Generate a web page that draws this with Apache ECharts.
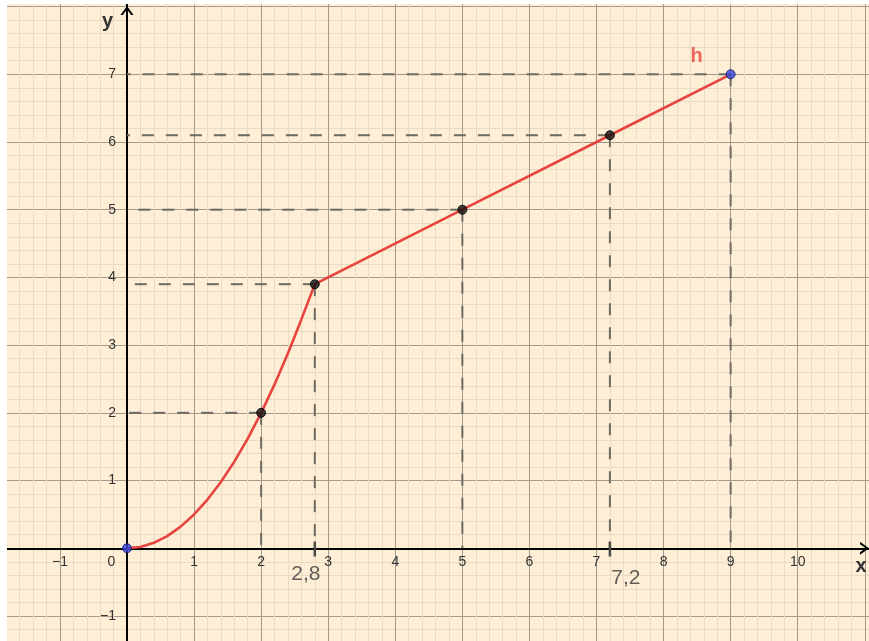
<!DOCTYPE html>
<html><head><meta charset="utf-8">
<script src="https://cdn.jsdelivr.net/npm/echarts@6/dist/echarts.min.js"></script>
<style>html,body{margin:0;padding:0;background:#fff}#c{width:869px;height:641px}</style>
</head><body><div id="c"></div>
<script>
// ---- data ----
const funcName = 'h';
// function h: curved part then straight part
const hX = [0, 0.2, 0.4, 0.6, 0.8, 1.0, 1.2, 1.4, 1.6, 1.8, 2.0, 2.2, 2.4, 2.6, 2.8, 5, 7.2, 9];
const hY = [0, 0.02, 0.08, 0.18, 0.32, 0.5, 0.72, 0.98, 1.28, 1.62, 2.0, 2.42, 2.88, 3.38, 3.9, 5, 6.1, 7];
// marked (black) points
const markX = [2, 2.8, 5, 7.2];
const markY = [2, 3.9, 5, 6.1];
// end (blue) points
const endX = [0, 9];
const endY = [0, 7];
// dashed guide lines to the axes
const guideX = [2, 2.8, 5, 7.2, 9];
const guideY = [2, 3.9, 5, 6.1, 7];
// extra value labels on the x axis
const extraX = [2.8, 7.2];
const extraText = ['2,8', '7,2'];
// tick labels
const xTicks = [-1, 0, 1, 2, 3, 4, 5, 6, 7, 8, 9, 10];
const xTickLabels = ['−1', '0', '1', '2', '3', '4', '5', '6', '7', '8', '9', '10'];
const yTicks = [-1, 1, 2, 3, 4, 5, 6, 7];
const yTickLabels = ['−1', '1', '2', '3', '4', '5', '6', '7'];
const xRange = [-2, 11.063];
const yRange = [-2, 8.038];
const gridStep = 0.2;   // minor grid spacing; major every 1

// ---- layout & styles ----
const G = {left: -7.14, top: 4, width: 876.14, height: 679.7};
const pxX = G.width / (xRange[1] - xRange[0]);
const pxY = G.height / (yRange[1] - yRange[0]);
const x0px = G.left + (0 - xRange[0]) * pxX;
const y0px = G.top + yRange[1] * pxY;
const xAxisOffset = -(G.top + G.height - y0px);
const yAxisOffset = -(x0px - G.left);

const FONT = '"Liberation Sans", Arial, sans-serif';
const CREAM = '#fdeed5';
const MAJOR = '#a49a8c';
const MINOR = '#e9dac3';
const RED = '#e8443f';
const GUIDE = '#6d6b62';
const chevron = 'path://M0,9 L6.5,0 L13,9 L10.6,9 L6.5,3.3 L2.4,9 Z';
const gridColors = [MAJOR, MINOR, MINOR, MINOR, MINOR];

const chart = echarts.init(document.getElementById('c'), null, {renderer: 'canvas'});

const series = [];
guideX.forEach((gx, i) => {
  const gy = guideY[i];
  [[[gx, gy], [0, gy]], [[gx, gy], [gx, 0]]].forEach(seg => {
    series.push({
      type: 'line', data: seg, symbol: 'none', silent: true, z: 2,
      lineStyle: {color: GUIDE, width: 2, type: [12, 12]}, animation: false
    });
  });
});
extraX.forEach(ex => {
  series.push({
    type: 'line', data: [[ex, 0.1], [ex, -0.12]], symbol: 'none', silent: true, z: 2,
    lineStyle: {color: '#4a4a46', width: 2.5}, animation: false
  });
});
series.push({
  type: 'line', name: funcName, data: hX.map((x, i) => [x, hY[i]]),
  symbol: 'none', smooth: false, z: 3, animation: false,
  lineStyle: {color: RED, width: 2.6}
});
series.push({
  type: 'scatter', data: markX.map((x, i) => [x, markY[i]]), z: 4, animation: false,
  symbolSize: 9, itemStyle: {color: '#111', borderColor: '#000', borderWidth: 1}
});
series.push({
  type: 'scatter', z: 4, animation: false, symbolSize: 9,
  itemStyle: {color: '#3346dc', borderColor: '#151560', borderWidth: 1},
  data: endX.map((x, i) => {
    const item = {value: [x, endY[i]]};
    if (i === endX.length - 1) {
      item.label = {show: true, position: 'inside', formatter: funcName, offset: [-34, -18],
        color: RED, fontSize: 20, fontWeight: 'bold', fontFamily: FONT};
    }
    return item;
  })
});
series.push({
  type: 'scatter', z: 4, animation: false, symbolSize: 0, silent: true,
  data: extraX.map((x, i) => ({
    value: [x, 0],
    label: {show: true, position: 'inside', formatter: extraText[i],
      offset: i === 0 ? [-9, 26] : [16, 30],
      color: '#3a3a3a', fontSize: 21, fontFamily: FONT}
  }))
});

function lab(ticks, texts, v) {
  for (let i = 0; i < ticks.length; i++) {
    if (Math.abs(ticks[i] - v) < 1e-6) return texts[i];
  }
  return '';
}

chart.setOption({
  backgroundColor: CREAM,
  animation: false,
  grid: {left: G.left, top: G.top, width: G.width, height: G.height, show: false,
    containLabel: false, outerBoundsMode: 'none'},
  xAxis: {
    type: 'value', min: xRange[0], max: xRange[1], interval: gridStep,
    position: 'bottom', offset: xAxisOffset,
    axisLine: {show: true, onZero: false, lineStyle: {color: '#000', width: 2},
      symbol: ['none', chevron], symbolSize: [13, 9], symbolOffset: [0, -4.5]},
    axisTick: {show: false},
    axisLabel: {show: true, margin: 7, hideOverlap: false, showMinLabel: true, showMaxLabel: true,
      fontSize: 14, color: '#333', fontFamily: FONT,
      formatter: v => {
        const t = lab(xTicks, xTickLabels, v);
        return t === '0' ? '0        ' : t;
      }},
    splitLine: {show: true, showMaxLine: false, lineStyle: {color: gridColors, width: 1}}
  },
  yAxis: {
    type: 'value', min: yRange[0], max: yRange[1], interval: gridStep,
    position: 'left', offset: yAxisOffset,
    axisLine: {show: true, onZero: false, lineStyle: {color: '#000', width: 2},
      symbol: ['none', chevron], symbolSize: [13, 9], symbolOffset: [0, -6.5]},
    axisTick: {show: false},
    axisLabel: {show: true, margin: 11, hideOverlap: false, showMinLabel: true, showMaxLabel: true,
      fontSize: 14, color: '#333', fontFamily: FONT,
      formatter: v => lab(yTicks, yTickLabels, v)},
    splitLine: {show: true, showMaxLine: false, lineStyle: {color: gridColors, width: 1}}
  },
  graphic: [
    {type: 'rect', left: 0, top: 0, z: 100, shape: {width: 7, height: 641}, style: {fill: '#ffffff'}, silent: true},
    {type: 'rect', left: 0, top: 0, z: 100, shape: {width: 869, height: 4}, style: {fill: '#ffffff'}, silent: true},
    {type: 'text', x: 107.5, y: 21, z: 100, silent: true,
      style: {text: 'y', font: 'bold 20px ' + FONT, fill: '#333', align: 'center', verticalAlign: 'middle', textAlign: 'center', textVerticalAlign: 'middle'}},
    {type: 'text', x: 861, y: 566.5, z: 100, silent: true,
      style: {text: 'x', font: 'bold 20px ' + FONT, fill: '#333', align: 'center', verticalAlign: 'middle', textAlign: 'center', textVerticalAlign: 'middle'}}
  ],
  series: series
});
</script>
</body></html>
